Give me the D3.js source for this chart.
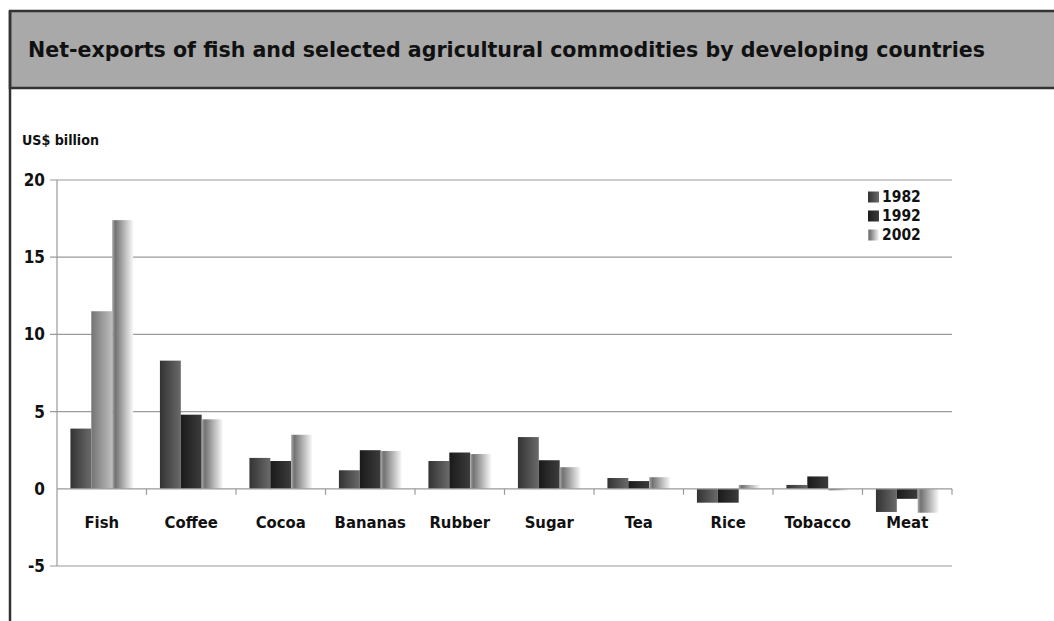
<!DOCTYPE html>
<html><head><meta charset="utf-8">
<script src="https://cdn.jsdelivr.net/npm/d3@7"></script>
<style>body{margin:0;background:#fff}svg{display:block}</style>
</head><body><svg id="c" width="1054" height="621"></svg>
<script>
const title = "Net-exports of fish and selected agricultural commodities by developing countries";
const yLabel = "US$ billion";
const categories = ["Fish","Coffee","Cocoa","Bananas","Rubber","Sugar","Tea","Rice","Tobacco","Meat"];
const seriesNames = ["1982","1992","2002"];
const v1982 = [3.9, 8.3, 2.0, 1.2, 1.8, 3.35, 0.7, -0.9, 0.25, -1.5];
const v1992 = [11.5, 4.8, 1.8, 2.5, 2.35, 1.85, 0.5, -0.9, 0.8, -0.65];
const v2002 = [17.4, 4.5, 3.5, 2.45, 2.25, 1.4, 0.75, 0.25, -0.1, -1.55];
const yTicks = [-5, 0, 5, 10, 15, 20];

const svg = d3.select("#c");
const font = "'DejaVu Sans Condensed', 'DejaVu Sans', sans-serif";
const defs = svg.append("defs");
function grad(id, stops){
  const g = defs.append("linearGradient").attr("id", id).attr("x1","0%").attr("x2","100%").attr("y1","0%").attr("y2","0%");
  stops.forEach(s => g.append("stop").attr("offset", s[0]).attr("stop-color", s[1]));
}
grad("g1982", [["0%","#333333"],["100%","#6a6a6a"]]);
grad("g1992", [["0%","#1a1a1a"],["100%","#3c3c3c"]]);
grad("g2002", [["0%","#a8a8a8"],["15%","#727272"],["100%","#f8f8f8"]]);
grad("gFish92", [["0%","#747474"],["100%","#bdbdbd"]]);

function fitText(sel, w){
  const l = sel.node().getComputedTextLength();
  if (Math.abs(l-w) > 2) sel.attr("textLength",w).attr("lengthAdjust","spacingAndGlyphs");
}

// frame and title band
svg.append("rect").attr("x",10).attr("y",11).attr("width",1054).attr("height",77)
  .attr("fill","#a9a9a9").attr("stroke","#333").attr("stroke-width",2.5);
svg.append("line").attr("x1",10).attr("x2",10).attr("y1",11).attr("y2",621).attr("stroke","#333").attr("stroke-width",2.5);
const t = svg.append("text").attr("x",28).attr("y",57).attr("font-family",font).attr("font-weight",700)
  .attr("font-size",22).attr("fill","#111").text(title);
fitText(t, 957);

const x0 = d3.scaleBand().domain(categories).range([57,952]).paddingInner(0.3).paddingOuter(0.15);
const x1 = d3.scaleBand().domain(seriesNames).range([0, x0.bandwidth()]);
const y = d3.scaleLinear().domain([-5,20]).range([566,180]);

// gridlines
svg.append("g").selectAll("line").data(yTicks.filter(d=>d!==0)).join("line")
  .attr("x1",50).attr("x2",952).attr("y1",d=>y(d)).attr("y2",d=>y(d))
  .attr("stroke","#9a9a9a").attr("stroke-width",1.2);
// y axis
svg.append("line").attr("x1",57).attr("x2",57).attr("y1",y(20)).attr("y2",y(-5)).attr("stroke","#9a9a9a").attr("stroke-width",1.2);
svg.append("g").selectAll("text").data(yTicks).join("text")
  .attr("x",45).attr("y",d=>y(d)).attr("dy","0.35em").attr("text-anchor","end")
  .attr("font-family",font).attr("font-weight",700).attr("font-size",17).attr("fill","#111")
  .text(d=>d);
const yl = svg.append("text").attr("x",22).attr("y",145).attr("font-family",font).attr("font-weight",700)
  .attr("font-size",14.5).attr("fill","#111").text(yLabel);
fitText(yl, 77);

// bars
const data = categories.map((c,i)=>({cat:c, vals:[v1982[i], v1992[i], v2002[i]]}));
const groups = svg.append("g").selectAll("g").data(data).join("g")
  .attr("transform", d=>`translate(${x0(d.cat)},0)`);
groups.selectAll("rect").data(d=>d.vals.map((v,j)=>({cat:d.cat, s:seriesNames[j], v}))).join("rect")
  .attr("x", d=>x1(d.s)).attr("width", x1.bandwidth())
  .attr("y", d=>y(Math.max(0,d.v))).attr("height", d=>Math.abs(y(d.v)-y(0)))
  .attr("fill", d=> (d.cat==="Fish" && d.s==="1992") ? "url(#gFish92)" : `url(#g${d.s})`);

// x axis line at zero + ticks
svg.append("line").attr("x1",57).attr("x2",952).attr("y1",y(0)).attr("y2",y(0)).attr("stroke","#9a9a9a").attr("stroke-width",1.2);
const tickPos = categories.map(c=>x0(c)-x0.step()*x0.paddingInner()/2).slice(1).concat([952]);
svg.append("g").selectAll("line").data(tickPos).join("line")
  .attr("x1",d=>d).attr("x2",d=>d).attr("y1",y(0)).attr("y2",y(0)+6).attr("stroke","#9a9a9a").attr("stroke-width",1.2);
svg.append("g").selectAll("text").data(categories).join("text")
  .attr("x", d=>x0(d)+x0.bandwidth()/2).attr("y",522).attr("dy","0.35em").attr("text-anchor","middle")
  .attr("font-family",font).attr("font-weight",700).attr("font-size",16.5).attr("fill","#111").text(d=>d);

// legend
const lg = svg.append("g").selectAll("g").data(seriesNames).join("g")
  .attr("transform",(d,i)=>`translate(868,${197+i*19})`);
lg.append("rect").attr("x",0).attr("y",-5.5).attr("width",11).attr("height",11).attr("fill",d=>`url(#g${d})`);
lg.append("text").attr("x",14).attr("y",0).attr("dy","0.35em").attr("font-family",font).attr("font-weight",700)
  .attr("font-size",15.5).attr("fill","#111").text(d=>d);
</script></body></html>
